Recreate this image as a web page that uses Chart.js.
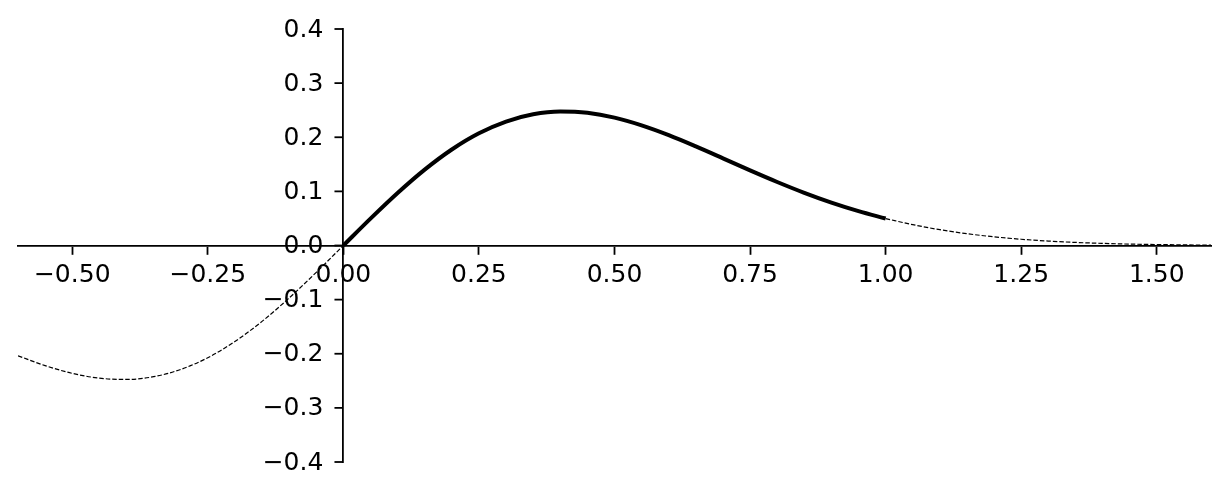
<!DOCTYPE html>
<html>
<head>
<meta charset="utf-8">
<script src="https://cdn.jsdelivr.net/npm/chart.js@4/dist/chart.umd.min.js"></script>
<style>
html,body{margin:0;padding:0;background:#fff;}
#c{display:block;}
</style>
</head>
<body>
<canvas id="c" width="1228" height="497"></canvas>
<script>
// Values
const xLeft  = [-0.60,-0.55,-0.50,-0.45,-0.40,-0.35,-0.30,-0.25,-0.20,-0.15,-0.10,-0.05,0.00];
const yLeft  = [-0.2038,-0.2219,-0.2362,-0.2451,-0.2475,-0.2424,-0.2290,-0.2073,-0.1774,-0.1402,-0.0970,-0.0496,0.0000];
const xMid   = [0.00,0.05,0.10,0.15,0.20,0.25,0.30,0.35,0.40,0.45,0.50,0.55,0.60,0.65,0.70,0.75,0.80,0.85,0.90,0.95,1.00];
const yMid   = [0.0000,0.0496,0.0970,0.1402,0.1774,0.2073,0.2290,0.2424,0.2475,0.2451,0.2362,0.2219,0.2038,0.1830,0.1610,0.1387,0.1173,0.0973,0.0792,0.0634,0.0498];
const xRight = [1.00,1.05,1.10,1.15,1.20,1.25,1.30,1.35,1.40,1.45,1.50,1.55,1.60];
const yRight = [0.0498,0.0385,0.0292,0.0218,0.0160,0.0115,0.0082,0.0057,0.0039,0.0026,0.0018,0.0011,0.0007];
const xTicks = [-0.5,-0.25,0,0.25,0.5,0.75,1.0,1.25,1.5];
const yTicks = [-0.4,-0.3,-0.2,-0.1,0,0.1,0.2,0.3,0.4];

const pts = (xs, ys) => xs.map((x, i) => ({x, y: ys[i]}));
const fmt = (v, d) => v.toFixed(d).replace('-', '\u2212');

const FONT = {family: 'DejaVu Sans', size: 25};
const TICK_LEN = 8;
const LINE_W = 1.8;

// y-axis sits at x = 0: draw its tick marks and labels on the left side, matplotlib style
const yAxisTicks = {
  id: 'yAxisTicks',
  afterDraw(chart) {
    const {ctx, scales: {x, y}} = chart;
    const ax = x.getPixelForValue(0);
    ctx.save();
    ctx.strokeStyle = '#000';
    ctx.lineWidth = LINE_W;
    ctx.fillStyle = '#000';
    ctx.font = FONT.size + 'px "' + FONT.family + '"';
    ctx.textAlign = 'right';
    ctx.textBaseline = 'middle';
    y.ticks.forEach(t => {
      const py = y.getPixelForValue(t.value);
      ctx.beginPath();
      ctx.moveTo(ax - LINE_W / 2, py);
      ctx.lineTo(ax - LINE_W / 2 - TICK_LEN, py);
      ctx.stroke();
      ctx.fillText(fmt(t.value, 1), ax - TICK_LEN - 12, py + 1);
    });
    ctx.restore();
  }
};

new Chart(document.getElementById('c'), {
  type: 'line',
  data: {
    datasets: [
      {data: pts(xLeft, yLeft), borderColor: '#000', borderWidth: 1.2, borderDash: [4.5, 2], pointRadius: 0, cubicInterpolationMode: 'monotone', fill: false},
      {data: pts(xMid, yMid), borderColor: '#000', borderWidth: 4, pointRadius: 0, cubicInterpolationMode: 'monotone', fill: false},
      {data: pts(xRight, yRight), borderColor: '#000', borderWidth: 1.2, borderDash: [4.5, 2], pointRadius: 0, cubicInterpolationMode: 'monotone', fill: false}
    ]
  },
  options: {
    responsive: false,
    animation: false,
    events: [],
    layout: {padding: {left: 18, right: 17, top: 29, bottom: 35}},
    plugins: {legend: {display: false}, tooltip: {enabled: false}},
    scales: {
      x: {
        type: 'linear',
        position: {y: 0},
        min: -0.6, max: 1.6,
        afterBuildTicks: s => { s.ticks = xTicks.map(v => ({value: v})); },
        ticks: {font: FONT, color: '#000', padding: 7, callback: v => fmt(v, 2), maxRotation: 0, autoSkip: false},
        grid: {drawOnChartArea: false, drawTicks: true, tickLength: TICK_LEN, tickWidth: LINE_W, tickColor: '#000'},
        border: {display: true, color: '#000', width: LINE_W}
      },
      y: {
        type: 'linear',
        position: {x: 0},
        min: -0.4, max: 0.4,
        afterBuildTicks: s => { s.ticks = yTicks.map(v => ({value: v})); },
        ticks: {display: false},
        grid: {drawOnChartArea: false, drawTicks: false},
        border: {display: true, color: '#000', width: LINE_W}
      }
    }
  },
  plugins: [yAxisTicks]
});
</script>
</body>
</html>
